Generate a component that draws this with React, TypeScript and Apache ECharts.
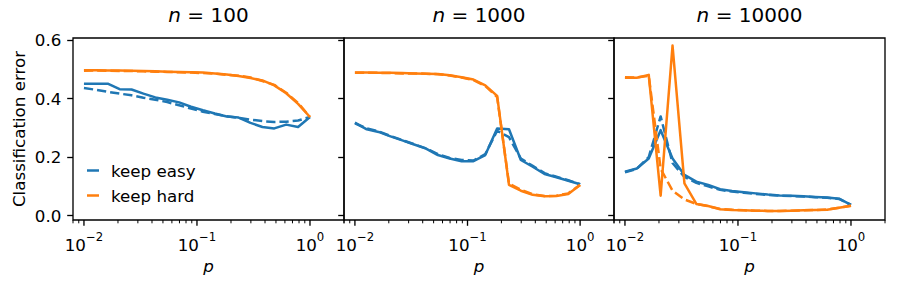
import React, { useEffect, useRef } from 'react';
import * as echarts from 'echarts';

// p values (log-spaced from 1e-2 to 1e0, 20 points)
const P = [
  0.01, 0.012743, 0.016238, 0.020691, 0.026367, 0.033598, 0.042813, 0.054556, 0.069519, 0.088587,
  0.112884, 0.143845, 0.183298, 0.233572, 0.297635, 0.379269, 0.483293, 0.615848, 0.78476, 1.0,
];

const PANEL_N = ['100', '1000', '10000'];

// n = 100
const N100_EASY = [0.451, 0.451, 0.451, 0.432, 0.431, 0.417, 0.404, 0.396, 0.387, 0.372, 0.360, 0.349, 0.339, 0.335, 0.317, 0.303, 0.298, 0.311, 0.303, 0.337];
const N100_EASY_DASHED = [0.436, 0.430, 0.423, 0.417, 0.411, 0.403, 0.396, 0.388, 0.377, 0.366, 0.355, 0.347, 0.340, 0.334, 0.328, 0.323, 0.320, 0.321, 0.325, 0.337];
const N100_HARD = [0.497, 0.497, 0.496, 0.496, 0.495, 0.494, 0.493, 0.492, 0.491, 0.490, 0.489, 0.486, 0.482, 0.477, 0.470, 0.462, 0.445, 0.418, 0.382, 0.337];
const N100_HARD_DASHED = [0.495, 0.496, 0.495, 0.494, 0.494, 0.493, 0.492, 0.491, 0.490, 0.489, 0.487, 0.485, 0.481, 0.478, 0.472, 0.460, 0.447, 0.420, 0.385, 0.337];

// n = 1000
const N1000_EASY = [0.318, 0.295, 0.286, 0.271, 0.257, 0.243, 0.229, 0.207, 0.195, 0.186, 0.186, 0.207, 0.298, 0.295, 0.190, 0.167, 0.142, 0.131, 0.119, 0.107];
const N1000_EASY_DASHED = [0.315, 0.298, 0.288, 0.272, 0.258, 0.244, 0.230, 0.210, 0.197, 0.190, 0.188, 0.210, 0.290, 0.268, 0.195, 0.170, 0.145, 0.133, 0.121, 0.107];
const N1000_HARD = [0.489, 0.489, 0.488, 0.488, 0.487, 0.486, 0.485, 0.484, 0.480, 0.473, 0.465, 0.445, 0.409, 0.105, 0.085, 0.071, 0.066, 0.067, 0.074, 0.105];
const N1000_HARD_DASHED = [0.488, 0.488, 0.488, 0.487, 0.486, 0.486, 0.485, 0.483, 0.479, 0.472, 0.463, 0.443, 0.405, 0.110, 0.088, 0.073, 0.067, 0.068, 0.076, 0.105];

// n = 10000
const N10000_EASY = [0.150, 0.161, 0.195, 0.292, 0.195, 0.139, 0.116, 0.105, 0.090, 0.084, 0.080, 0.076, 0.072, 0.069, 0.068, 0.066, 0.064, 0.062, 0.058, 0.037];
const N10000_EASY_DASHED = [0.148, 0.160, 0.200, 0.339, 0.180, 0.132, 0.112, 0.100, 0.088, 0.082, 0.078, 0.074, 0.071, 0.068, 0.067, 0.065, 0.063, 0.061, 0.057, 0.037];
const N10000_HARD = [0.471, 0.471, 0.481, 0.068, 0.581, 0.110, 0.040, 0.033, 0.022, 0.019, 0.018, 0.017, 0.016, 0.016, 0.017, 0.018, 0.019, 0.020, 0.027, 0.034];
const N10000_HARD_DASHED = [0.473, 0.472, 0.478, 0.160, 0.085, 0.055, 0.040, 0.032, 0.023, 0.020, 0.018, 0.017, 0.016, 0.016, 0.017, 0.018, 0.019, 0.021, 0.027, 0.034];

const Y_TICKS = [0, 0.2, 0.4, 0.6];
const X_MAJOR_TICKS = [0.01, 0.1, 1];
const X_MINOR_TICKS = [
  0.008, 0.009,
  0.02, 0.03, 0.04, 0.05, 0.06, 0.07, 0.08, 0.09,
  0.2, 0.3, 0.4, 0.5, 0.6, 0.7, 0.8, 0.9,
  2,
];

const PANELS = [
  { easy: N100_EASY, easyD: N100_EASY_DASHED, hard: N100_HARD, hardD: N100_HARD_DASHED },
  { easy: N1000_EASY, easyD: N1000_EASY_DASHED, hard: N1000_HARD, hardD: N1000_HARD_DASHED },
  { easy: N10000_EASY, easyD: N10000_EASY_DASHED, hard: N10000_HARD, hardD: N10000_HARD_DASHED },
];

const BLUE = '#1f77b4';
const ORANGE = '#ff7f0e';
const FONT = 'DejaVu Sans';
const FS = 16.7;
const Y_MIN = -0.015;
const Y_MAX = 0.607;
const X_MIN = 0.008;
const X_MAX = 2;

const GRID_LEFT = [73, 344, 614];
const GRID_WIDTH = [271, 270, 271];
const GRID_TOP = 38;
const GRID_HEIGHT = 182;

export default function App() {
  const ref = useRef<HTMLDivElement>(null);

  useEffect(() => {
    if (!ref.current) return;
    const chart = echarts.init(ref.current, undefined, { renderer: 'svg' });

    const grids = GRID_LEFT.map((l, k) => ({
      left: l,
      top: GRID_TOP,
      width: GRID_WIDTH[k],
      height: GRID_HEIGHT,
      show: true,
      borderColor: '#000',
      borderWidth: 1.33,
      backgroundColor: 'transparent',
      containLabel: false,
      outerBoundsMode: 'none',
    }));

    const xAxes = GRID_LEFT.map((_, k) => ({
      type: 'log',
      logBase: 10,
      gridIndex: k,
      min: X_MIN,
      max: X_MAX,
      axisLine: { show: false },
      axisTick: { show: false },
      splitLine: { show: false },
      minorTick: { show: false },
      axisLabel: {
        show: true,
        margin: 11,
        color: '#000',
        fontFamily: FONT,
        fontSize: FS,
        formatter: (v: number) => {
          const l = Math.log10(v);
          const r = Math.round(l);
          if (Math.abs(l - r) > 1e-6) return '';
          const e = r < 0 ? '\u2212' + Math.abs(r) : String(r);
          return '{b|10}{s|' + e + '}';
        },
        rich: {
          b: { fontFamily: FONT, fontSize: FS, color: '#000', lineHeight: 22, verticalAlign: 'bottom' },
          s: { fontFamily: FONT, fontSize: 11.7, color: '#000', lineHeight: 22, verticalAlign: 'top' },
        },
      },
      name: 'p',
      nameLocation: 'middle',
      nameGap: 37,
      nameTextStyle: { fontFamily: FONT, fontSize: FS, fontStyle: 'italic', color: '#000' },
    }));

    const yAxes = GRID_LEFT.map((_, k) => ({
      type: 'value',
      gridIndex: k,
      min: Y_MIN,
      max: Y_MAX,
      axisLine: { show: false },
      splitLine: { show: false },
      axisTick: {
        show: true,
        customValues: Y_TICKS,
        length: 5.8,
        inside: false,
        lineStyle: { color: '#000', width: 1.33 },
      },
      axisLabel: {
        show: k === 0,
        customValues: Y_TICKS,
        margin: 11.6,
        color: '#000',
        fontFamily: FONT,
        fontSize: FS,
        formatter: (v: number) => v.toFixed(1),
      },
      name: k === 0 ? 'Classification error' : '',
      nameLocation: 'middle',
      nameGap: 46,
      nameTextStyle: { fontFamily: FONT, fontSize: FS, color: '#000' },
    }));

    const lineSeries = (name: string, vals: number[], color: string, dashed: boolean, k: number, z: number) => ({
      type: 'line',
      name,
      xAxisIndex: k,
      yAxisIndex: k,
      data: P.map((p, i) => [p, vals[i]]),
      showSymbol: false,
      symbol: 'none',
      silent: true,
      z,
      itemStyle: { color },
      lineStyle: {
        color,
        width: 2.5,
        type: dashed ? [9.25, 4] : 'solid',
        cap: 'butt',
        join: 'round',
      },
    });

    const tickSeries = (vals: number[], len: number, width: number, k: number) => ({
      type: 'custom',
      xAxisIndex: k,
      yAxisIndex: k,
      silent: true,
      clip: false,
      z: 10,
      data: vals.map((v) => [v, Y_MIN]),
      encode: { x: 0, y: 1 },
      renderItem: (_params: any, api: any) => {
        const pt = api.coord([api.value(0), api.value(1)]);
        return {
          type: 'line',
          shape: { x1: pt[0], y1: pt[1], x2: pt[0], y2: pt[1] + len },
          style: { stroke: '#000', lineWidth: width },
        };
      },
    });

    const series: any[] = [];
    PANELS.forEach((pd, k) => {
      series.push(lineSeries('keep easy', pd.easy, BLUE, false, k, 2));
      series.push(lineSeries('keep easy (alt)', pd.easyD, BLUE, true, k, 3));
      series.push(lineSeries('keep hard', pd.hard, ORANGE, false, k, 4));
      series.push(lineSeries('keep hard (alt)', pd.hardD, ORANGE, true, k, 5));
      series.push(tickSeries(X_MAJOR_TICKS, 5.8, 1.33, k));
      series.push(tickSeries(X_MINOR_TICKS, 3.3, 1, k));
    });

    const titles = PANEL_N.map((n, k) => ({
      text: '{i|n} = ' + n,
      left: GRID_LEFT[k] + GRID_WIDTH[k] / 2,
      top: 5,
      padding: 0,
      textAlign: 'center',
      textStyle: {
        fontFamily: FONT,
        fontSize: 20,
        fontWeight: 'normal',
        color: '#000',
        rich: {
          i: { fontFamily: FONT, fontSize: 20, fontStyle: 'italic', color: '#000' },
        },
      },
    }));

    chart.setOption({
      animation: false,
      backgroundColor: '#fff',
      title: titles,
      grid: grids,
      xAxis: xAxes,
      yAxis: yAxes,
      legend: {
        data: ['keep easy', 'keep hard'],
        orient: 'vertical',
        left: 87,
        top: 162,
        padding: 0,
        itemGap: 8,
        itemWidth: 12,
        itemHeight: 2.5,
        icon: 'rect',
        selectedMode: false,
        formatter: '{t|{name}}',
        textStyle: {
          fontFamily: FONT,
          fontSize: FS,
          color: '#000',
          rich: {
            t: { fontFamily: FONT, fontSize: FS, color: '#000', padding: [0, 0, 0, 7] },
          },
        },
      },
      series,
    });

    return () => chart.dispose();
  }, []);

  return (
    <div
      ref={ref}
      style={{ position: 'fixed', left: 0, top: 0, width: 898, height: 285, background: '#fff' }}
    />
  );
}
